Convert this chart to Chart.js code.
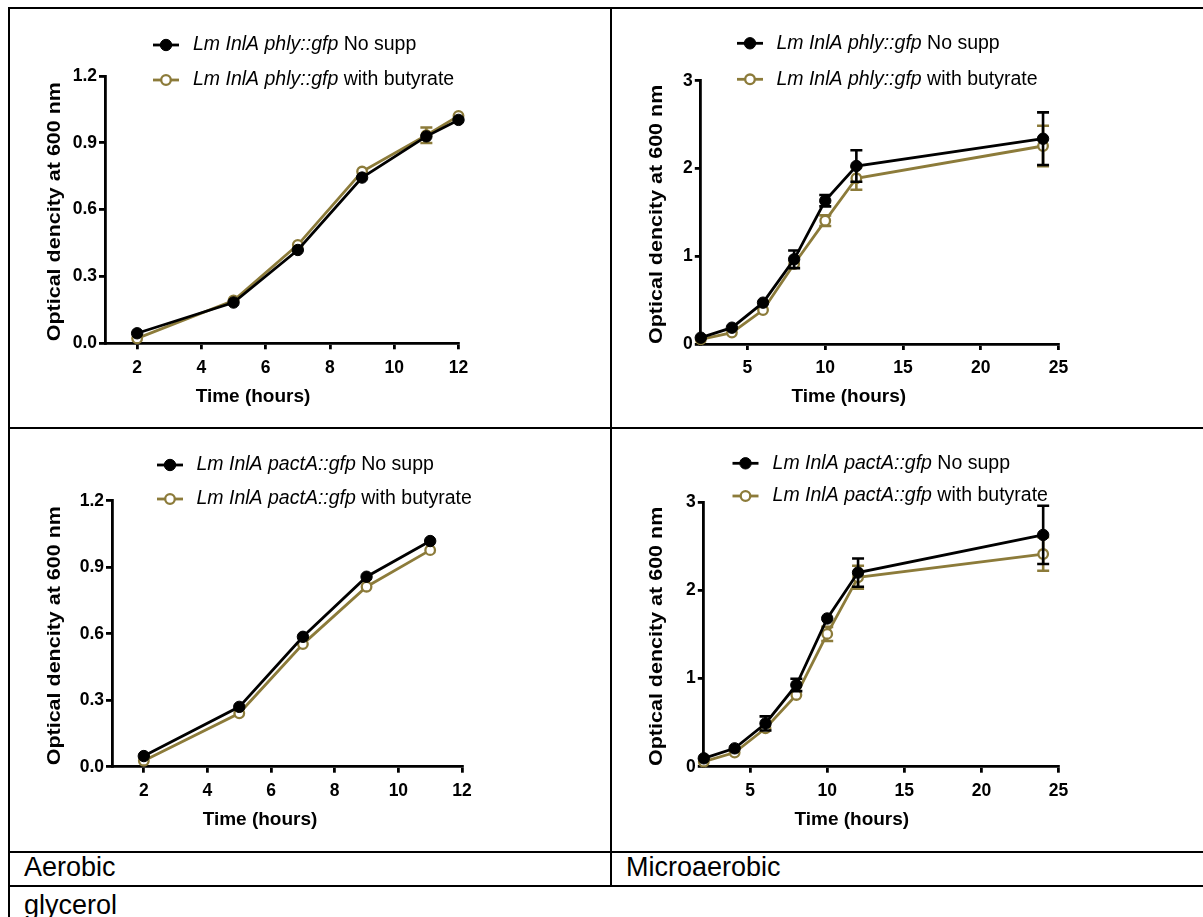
<!DOCTYPE html>
<html>
<head>
<meta charset="utf-8">
<script src="https://cdn.jsdelivr.net/npm/chart.js@4"></script>
<style>
  html, body { margin: 0; padding: 0; background: #fff; }
  body { width: 1203px; height: 917px; position: relative; overflow: hidden; font-family: "Liberation Sans", Arial, sans-serif; }
  .rule { position: absolute; background: #000; }
  .cell { position: absolute; }
  .label { position: absolute; font-size: 27px; line-height: 27px; color: #000; white-space: nowrap; }
</style>
</head>
<body>
<!-- table rules -->
<div class="rule" style="left:8px;top:7px;width:1195px;height:2px"></div>
<div class="rule" style="left:8px;top:7px;width:2px;height:910px"></div>
<div class="rule" style="left:610px;top:7px;width:2px;height:880px"></div>
<div class="rule" style="left:8px;top:427px;width:1195px;height:2px"></div>
<div class="rule" style="left:8px;top:851px;width:1195px;height:2px"></div>
<div class="rule" style="left:8px;top:885px;width:1195px;height:2px"></div>

<canvas id="aerPhly" class="cell" style="left:10px;top:9px" width="600" height="418"></canvas>
<canvas id="microPhly" class="cell" style="left:612px;top:9px" width="591" height="418"></canvas>
<canvas id="aerPact" class="cell" style="left:10px;top:429px" width="600" height="422"></canvas>
<canvas id="microPact" class="cell" style="left:612px;top:429px" width="591" height="422"></canvas>

<div class="label" style="left:24px;top:854px">Aerobic</div>
<div class="label" style="left:626px;top:854px">Microaerobic</div>
<div class="label" style="left:24px;top:892px">glycerol</div>

<script>
// ---------- data ----------
// Aerobic, phly::gfp
const timeAerPhly = [2, 5, 7, 9, 11, 12];
const odAerPhlyNoSupp = [0.045, 0.183, 0.419, 0.744, 0.929, 1.003];
const sdAerPhlyNoSupp = [0.006, 0.008, 0.010, 0.012, 0.018, 0.008];
const odAerPhlyButyrate = [0.022, 0.192, 0.442, 0.771, 0.934, 1.021];
const sdAerPhlyButyrate = [0.005, 0.008, 0.010, 0.012, 0.035, 0.010];

// Microaerobic, phly::gfp
const timeMicroPhly = [2, 4, 6, 8, 10, 12, 24];
const odMicroPhlyNoSupp = [0.072, 0.186, 0.471, 0.965, 1.633, 2.028, 2.339];
const sdMicroPhlyNoSupp = [0.02, 0.03, 0.04, 0.10, 0.065, 0.18, 0.30];
const odMicroPhlyButyrate = [0.053, 0.130, 0.387, 0.911, 1.405, 1.888, 2.256];
const sdMicroPhlyButyrate = [0.02, 0.02, 0.03, 0.04, 0.06, 0.13, 0.23];

// Aerobic, pactA::gfp
const timeAerPact = [2, 5, 7, 9, 11];
const odAerPactNoSupp = [0.048, 0.270, 0.586, 0.857, 1.018];
const sdAerPactNoSupp = [0.005, 0.010, 0.010, 0.010, 0.010];
const odAerPactButyrate = [0.027, 0.241, 0.553, 0.812, 0.977];
const sdAerPactButyrate = [0.005, 0.010, 0.010, 0.010, 0.010];

// Microaerobic, pactA::gfp
const timeMicroPact = [2, 4, 6, 8, 10, 12, 24];
const odMicroPactNoSupp = [0.095, 0.208, 0.490, 0.926, 1.680, 2.200, 2.627];
const sdMicroPactNoSupp = [0.02, 0.03, 0.08, 0.07, 0.03, 0.16, 0.33];
const odMicroPactButyrate = [0.057, 0.160, 0.435, 0.813, 1.505, 2.147, 2.410];
const sdMicroPactButyrate = [0.02, 0.02, 0.04, 0.03, 0.08, 0.13, 0.19];

// axis ticks
const xTicksAer = [2, 4, 6, 8, 10, 12];
const xTicksMicro = [5, 10, 15, 20, 25];
const yTicksAer = [0, 0.3, 0.6, 0.9, 1.2];
const yTicksMicro = [0, 1, 2, 3];

const strainPhly = "Lm InlA phly::gfp";
const strainPact = "Lm InlA pactA::gfp";
const conditions = ["No supp", "with butyrate"];
const xTitle = "Time (hours)";
const yTitle = "Optical dencity at 600 nm";

const GOLD = "#8c7b3a";
const FONT = '"Liberation Sans", Arial, sans-serif';

// ---------- error bars, legend, axis titles ----------
const decor = {
    id: "decor",
    beforeDatasetDraw(chart, args) {
        const ds = chart.data.datasets[args.index];
        if (!ds.errors) return;
        const { ctx, scales: { x, y } } = chart;
        ctx.save();
        ctx.strokeStyle = ds.borderColor;
        ctx.lineWidth = 2.6;
        ds.data.forEach((p, i) => {
            const e = ds.errors[i];
            const px = x.getPixelForValue(p.x);
            const top = y.getPixelForValue(p.y + e);
            const bot = y.getPixelForValue(p.y - e);
            if ((bot - top) / 2 < ds.pointRadius) return;
            ctx.beginPath();
            ctx.moveTo(px, bot); ctx.lineTo(px, top);
            ctx.moveTo(px - 6, top); ctx.lineTo(px + 6, top);
            ctx.moveTo(px - 6, bot); ctx.lineTo(px + 6, bot);
            ctx.stroke();
        });
        ctx.restore();
    },
    afterDraw(chart, args, opts) {
        const { ctx, chartArea: ca } = chart;
        ctx.save();
        ctx.fillStyle = "#000";

        // legend
        opts.rows.forEach((ry, i) => {
            const ds = chart.data.datasets[i];
            ctx.strokeStyle = ds.borderColor;
            ctx.lineWidth = 2.8;
            ctx.beginPath();
            ctx.moveTo(opts.markerX - 13, ry); ctx.lineTo(opts.markerX + 13, ry);
            ctx.stroke();
            ctx.beginPath();
            ctx.arc(opts.markerX, ry, ds.pointRadius, 0, Math.PI * 2);
            ctx.fillStyle = ds.pointBackgroundColor;
            ctx.fill();
            ctx.lineWidth = ds.pointBorderWidth;
            ctx.stroke();
            ctx.fillStyle = "#000";
            ctx.textAlign = "left";
            ctx.textBaseline = "middle";
            ctx.font = "italic 19.5px " + FONT;
            ctx.fillText(ds.strain, opts.textX, ry);
            const w = ctx.measureText(ds.strain).width;
            ctx.font = "19.5px " + FONT;
            ctx.fillText(" " + ds.cond, opts.textX + w, ry);
        });

        // x title
        ctx.font = "bold 19px " + FONT;
        ctx.textAlign = "center";
        ctx.textBaseline = "middle";
        ctx.fillText(xTitle, ca.left + 148, ca.bottom + 53);

        // y title (tall, thin lettering as in the figure)
        ctx.translate(45, (ca.top + ca.bottom) / 2 + 2);
        ctx.rotate(-Math.PI / 2);
        ctx.scale(1, 0.85);
        ctx.font = "bold 21.5px " + FONT;
        ctx.fillText(yTitle, 0, 0);
        ctx.restore();
    }
};

function points(times, vals) {
    return times.map((t, i) => ({ x: t, y: vals[i] }));
}

function makeChart(id, box, strain, times, black, blackSd, gold, goldSd, xTicks, yTicks, xMin, xMax, yMax, decimals) {
    const canvas = document.getElementById(id);
    const W = canvas.width, H = canvas.height;
    new Chart(canvas, {
        type: "line",
        data: {
            datasets: [
                {
                    strain: strain, cond: conditions[0], errors: blackSd,
                    data: points(times, black),
                    borderColor: "#000", backgroundColor: "#000",
                    pointBackgroundColor: "#000", pointBorderColor: "#000",
                    pointRadius: 5.7, pointBorderWidth: 1, borderWidth: 2.8,
                    tension: 0, clip: false
                },
                {
                    strain: strain, cond: conditions[1], errors: goldSd,
                    data: points(times, gold),
                    borderColor: GOLD, backgroundColor: GOLD,
                    pointBackgroundColor: "#fff", pointBorderColor: GOLD,
                    pointRadius: 4.8, pointBorderWidth: 2.3, borderWidth: 2.8,
                    tension: 0, clip: false
                }
            ]
        },
        options: {
            responsive: false,
            animation: false,
            layout: { padding: { top: box.top, right: W - box.right, left: 0, bottom: 0 } },
            plugins: {
                legend: { display: false },
                tooltip: { enabled: false },
                decor: { markerX: box.markerX, textX: box.textX, rows: box.rows }
            },
            scales: {
                x: {
                    type: "linear", min: xMin, max: xMax,
                    afterBuildTicks: (s) => { s.ticks = xTicks.map(v => ({ value: v })); },
                    afterFit: (s) => { s.height = H - box.bottom; },
                    grid: { drawOnChartArea: false, drawTicks: true, tickLength: 6, color: "#000", lineWidth: 2.8 },
                    border: { color: "#000", width: 2.8 },
                    ticks: { color: "#000", font: { family: FONT, size: 17.5, weight: "bold" }, padding: 8, maxRotation: 0, autoSkip: false }
                },
                y: {
                    type: "linear", min: 0, max: yMax,
                    afterBuildTicks: (s) => { s.ticks = yTicks.map(v => ({ value: v })); },
                    afterFit: (s) => { s.width = box.left; },
                    grid: { drawOnChartArea: false, drawTicks: true, tickLength: 6, color: "#000", lineWidth: 2.8 },
                    border: { color: "#000", width: 2.8 },
                    ticks: {
                        color: "#000", font: { family: FONT, size: 17.5, weight: "bold" }, padding: 2, autoSkip: false,
                        callback: (v) => Number(v).toFixed(decimals)
                    }
                }
            }
        },
        plugins: [decor]
    });
}

makeChart("aerPhly",
    { left: 95, right: 448.5, top: 67, bottom: 334.3, markerX: 156, textX: 183, rows: [36, 71] },
    strainPhly, timeAerPhly, odAerPhlyNoSupp, sdAerPhlyNoSupp, odAerPhlyButyrate, sdAerPhlyButyrate,
    xTicksAer, yTicksAer, 1, 12, 1.2, 1);

makeChart("microPhly",
    { left: 88.8, right: 446.6, top: 71.7, bottom: 335, markerX: 138, textX: 164.4, rows: [34.3, 70.3] },
    strainPhly, timeMicroPhly, odMicroPhlyNoSupp, sdMicroPhlyNoSupp, odMicroPhlyButyrate, sdMicroPhlyButyrate,
    xTicksMicro, yTicksMicro, 2, 25, 3, 0);

makeChart("aerPact",
    { left: 102, right: 452, top: 71.7, bottom: 337.7, markerX: 160, textX: 186.5, rows: [36, 70] },
    strainPact, timeAerPact, odAerPactNoSupp, sdAerPactNoSupp, odAerPactButyrate, sdAerPactButyrate,
    xTicksAer, yTicksAer, 1, 12, 1.2, 1);

makeChart("microPact",
    { left: 91.8, right: 446.6, top: 73, bottom: 337.7, markerX: 133.5, textX: 160.6, rows: [34.3, 67] },
    strainPact, timeMicroPact, odMicroPactNoSupp, sdMicroPactNoSupp, odMicroPactButyrate, sdMicroPactButyrate,
    xTicksMicro, yTicksMicro, 2, 25, 3, 0);
</script>
</body>
</html>
